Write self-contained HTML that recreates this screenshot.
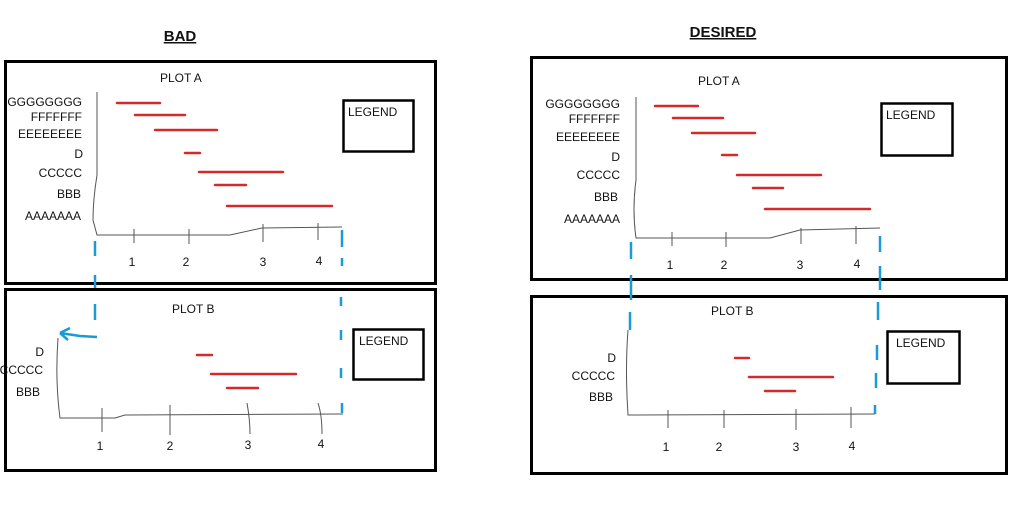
<!DOCTYPE html>
<html><head><style>
html,body{margin:0;padding:0;background:#fff;}
svg{display:block;}
text{font-family:"Liberation Sans",sans-serif;font-size:12px;fill:#111;}
</style></head><body>
<svg width="1024" height="507" viewBox="0 0 1024 507" xmlns="http://www.w3.org/2000/svg">
<g fill="none" stroke="#000" stroke-width="3">
<rect x="5.5" y="61.5" width="430" height="222"/>
<rect x="5.5" y="289.5" width="430" height="181"/>
<rect x="531.5" y="57.5" width="475" height="222"/>
<rect x="531.5" y="296.5" width="475" height="177"/>
<rect x="343.5" y="100.5" width="70" height="51" stroke-width="2.5"/>
<rect x="353.5" y="329.5" width="70" height="50" stroke-width="2.5"/>
<rect x="881.5" y="103.5" width="71" height="52" stroke-width="2.5"/>
<rect x="887.5" y="331.5" width="72" height="52" stroke-width="2.5"/>
</g>
<text x="180" y="41" text-anchor="middle" style="font-size:15px;font-weight:bold;text-decoration:underline">BAD</text>
<text x="723" y="37" text-anchor="middle" style="font-size:15px;font-weight:bold;text-decoration:underline">DESIRED</text>
<g fill="none" stroke="#555" stroke-width="1">
<path d="M97 92 L97 175 Q93 200 93 220 L97 235 L230 235 L262 228 L342 227"/>
<path d="M134 229V243M189 229V244M263 224V242M318 223V240"/>
<path d="M58 338 Q55 380 60 418 L115 418 L125 415 L343 414"/>
<path d="M102 408V432M170 405V435M247 403Q250 420 250 434M318 403Q322 415 322 434"/>
<path d="M636 97 L636 180 Q632 210 636 238 L770 238 L800 230 L880 228"/>
<path d="M672 232V246M726 232V247M801 228V244M856 226V244"/>
<path d="M628 330 Q625 370 628 415 L875 414"/>
<path d="M668 410V428M724 410V428M796 409V430M851 407V428"/>
</g>
<g fill="none" stroke="#d42a2a" stroke-width="2.5" stroke-linecap="round">
<path d="M117 103H160M135 115H185M155 130H217M185 153H200M199 172H283M215 185H246M227 206H332"/>
<path d="M197 355H212M211 374H296M227 388H258"/>
<path d="M655 106H698M673 118H723M692 133H755M722 155H737M737 175H821M753 188H783M765 209H870"/>
<path d="M735 358H749M749 377H833M765 391H795"/>
</g>
<g fill="none" stroke="#1a9bd6" stroke-width="2.5">
<path d="M95 241V256M95 275V288M95 304V320M342 230V247M342 258V266M341 297V306M341 330V340M341 368V378M342 403V413"/>
<path d="M97 337 L80 336 L60 333 M60 333 L70 328 M60 333 L68 340"/>
<path d="M631 242V259M631 275V300M630 312V330M880 236V252M880 266V290M878 302V320M877 345V360M876 373V388M875 405V414"/>
</g>
<g>
<text x="160" y="82">PLOT A</text>
<text x="82" y="106" text-anchor="end">GGGGGGGG</text>
<text x="82" y="121" text-anchor="end">FFFFFFF</text>
<text x="82" y="138" text-anchor="end">EEEEEEEE</text>
<text x="83" y="158" text-anchor="end">D</text>
<text x="82" y="177" text-anchor="end">CCCCC</text>
<text x="81" y="198" text-anchor="end">BBB</text>
<text x="81" y="220" text-anchor="end">AAAAAAA</text>
<text x="132" y="266" text-anchor="middle">1</text>
<text x="186" y="266" text-anchor="middle">2</text>
<text x="263" y="266" text-anchor="middle">3</text>
<text x="319" y="265" text-anchor="middle">4</text>
<text x="348" y="116">LEGEND</text>
<text x="172" y="313">PLOT B</text>
<text x="44" y="356" text-anchor="end">D</text>
<text x="43" y="374" text-anchor="end">CCCCC</text>
<text x="40" y="396" text-anchor="end">BBB</text>
<text x="100" y="450" text-anchor="middle">1</text>
<text x="170" y="450" text-anchor="middle">2</text>
<text x="248" y="449" text-anchor="middle">3</text>
<text x="321" y="448" text-anchor="middle">4</text>
<text x="359" y="345">LEGEND</text>
<text x="698" y="85">PLOT A</text>
<text x="620" y="108" text-anchor="end">GGGGGGGG</text>
<text x="620" y="123" text-anchor="end">FFFFFFF</text>
<text x="620" y="141" text-anchor="end">EEEEEEEE</text>
<text x="620" y="161" text-anchor="end">D</text>
<text x="620" y="179" text-anchor="end">CCCCC</text>
<text x="618" y="201" text-anchor="end">BBB</text>
<text x="620" y="223" text-anchor="end">AAAAAAA</text>
<text x="670" y="269" text-anchor="middle">1</text>
<text x="724" y="269" text-anchor="middle">2</text>
<text x="800" y="269" text-anchor="middle">3</text>
<text x="857" y="268" text-anchor="middle">4</text>
<text x="886" y="119">LEGEND</text>
<text x="711" y="315">PLOT B</text>
<text x="616" y="362" text-anchor="end">D</text>
<text x="615" y="380" text-anchor="end">CCCCC</text>
<text x="613" y="401" text-anchor="end">BBB</text>
<text x="666" y="451" text-anchor="middle">1</text>
<text x="719" y="451" text-anchor="middle">2</text>
<text x="796" y="451" text-anchor="middle">3</text>
<text x="852" y="450" text-anchor="middle">4</text>
<text x="896" y="347">LEGEND</text>
</g>
</svg>
</body></html>
